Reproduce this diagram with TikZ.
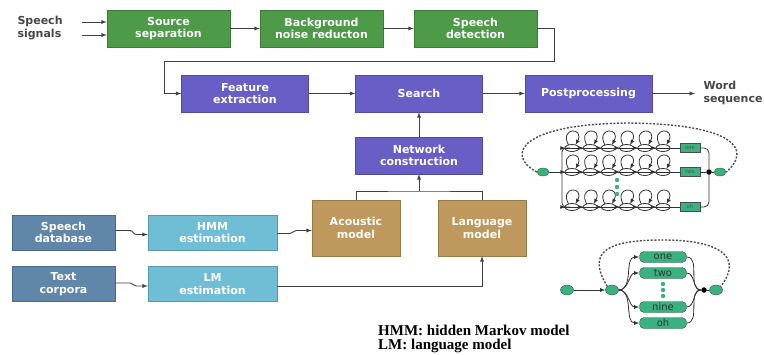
\documentclass[tikz,border=0pt]{standalone}
\usepackage{fontspec}
\setmainfont{DejaVu Sans}
\newfontfamily\capfont{Liberation Serif}
\usetikzlibrary{arrows, positioning, shapes.geometric}
\definecolor{mygreen}{RGB}{77,154,72}
\definecolor{mypurple}{RGB}{104,94,198}
\definecolor{mytan}{RGB}{190,152,92}
\definecolor{mysteel}{RGB}{96,134,170}
\definecolor{mysky}{RGB}{112,190,214}
\definecolor{netgreen}{RGB}{58,178,128}
\definecolor{labelgray}{RGB}{70,70,70}

\begin{document}
\begin{tikzpicture}[x=1pt,y=-1pt,
  box/.style={draw=#1!80!black, fill=#1, text=white, align=center, inner sep=1pt,
    font=\fontsize{11}{12.5}\selectfont\bfseries},
  gbox/.style={box=mygreen, minimum width=123pt, minimum height=37pt},
  pbox/.style={box=mypurple, minimum width=127pt, minimum height=37pt},
  tbox/.style={box=mytan, minimum width=88pt, minimum height=56pt},
  dbox/.style={box=mysteel, minimum width=103pt, minimum height=35pt},
  ebox/.style={box=mysky, minimum width=129pt, minimum height=35pt},
  outlabel/.style={text=labelgray, align=left, font=\fontsize{11}{12.5}\selectfont\bfseries},
  arr/.style={-latex, line width=0.9pt, draw=black!75},
  link/.style={line width=0.9pt, draw=black!75},
  net/.style={line width=0.8pt, draw=black!80},
  dashnet/.style={line width=1.4pt, draw=black!70, dash pattern=on 2pt off 1.6pt},
  nnode/.style={ellipse, draw=black!70, fill=netgreen, minimum width=12pt, minimum height=8pt, inner sep=0pt},
  jdot/.style={circle, fill=black, minimum size=5.5pt, inner sep=0pt},
  wbox/.style={draw=black!70, fill=netgreen, text=black!70, minimum width=20pt, minimum height=9pt,
    inner sep=0pt, font=\fontsize{5}{5}\selectfont},
  rbox/.style={draw=black!70, fill=netgreen, text=black!80, rounded corners=4.5pt, minimum width=47pt,
    minimum height=11pt, inner sep=0pt, font=\fontsize{10}{10}\selectfont}
  ]
  \useasboundingbox (0,0) rectangle (764,354);

  %Front end
  \node[outlabel, anchor=west] (sig) at (14,28) {Speech\\signals};
  \node[gbox] (src) at (168.5,28.5) {Source\\separation};
  \node[gbox] (bgn) at (321.5,28.5) {Background\\noise reducton};
  \node[gbox] (det) at (475.5,28.5) {Speech\\detection};
  \coordinate (in1) at (82,22);
  \coordinate (in2) at (82,35);
  \draw[arr] (in1) -- (in1 -| src.west);
  \draw[arr] (in2) -- (in2 -| src.west);
  \draw[arr] (src) -- (bgn);
  \draw[arr] (bgn) -- (det);

  %Recognition chain
  \node[pbox] (feat) at (245,93.5) {Feature\\extraction};
  \node[pbox] (srch) at (419,93.5) {Search};
  \node[pbox] (post) at (588.5,93.5) {Postprocessing};
  \node[outlabel, anchor=west] (word) at (700,93) {Word\\sequence};
  \coordinate (fb) at (164,61);
  \coordinate (out) at (695,93.5);
  \draw[arr] (det.east) -- ++(17,0) |- (fb) |- (feat.west);
  \draw[arr] (feat) -- (srch);
  \draw[arr] (srch) -- (post);
  \draw[arr] (post) -- (out);

  %Models
  \node[pbox] (netc) at (419,155.5) {Network\\construction};
  \node[tbox] (ac) at (356,228) {Acoustic\\model};
  \node[tbox] (lang) at (482,228) {Language\\model};
  \coordinate (j) at (419,191);
  \draw[arr] (netc) -- (srch);
  \draw[link] (ac.north) |- (j) -| (lang.north);
  \draw[arr] (j) -- (netc.south);

  %Training
  \node[dbox] (sdb) at (63.5,232.5) {Speech\\database};
  \node[ebox] (hmm) at (212.5,232.5) {HMM\\estimation};
  \node[dbox] (txt) at (63.5,284) {Text\\corpora};
  \node[ebox] (lme) at (212.5,284) {LM\\estimation};
  \draw[arr] ([yshift=2pt]sdb.east) -- ++(15,0) to[out=0,in=180] ++(6,4) -- ([yshift=-2pt]hmm.west);
  \draw[arr] ([yshift=-1pt]hmm.east) -- ++(13,0) to[out=0,in=180] ++(6,-3) -- ([yshift=2pt]hmm.east -| ac.west);
  \draw[arr] ([yshift=1pt]txt.east) -- ++(15,0) to[out=0,in=180] ++(6,3) -- ([yshift=-2pt]lme.west);
  \draw[arr] ([yshift=-2pt]lme.east) -| (lang.south);

  %Word network with HMM states
  \node[nnode] (tl) at (543,172) {};
  \node[nnode] (tr) at (720,172) {};
  \node[jdot] (tj) at (709,172) {};
  \foreach \r/\w in {148/one,172/two,207/oh}
  {
    \node[wbox] (t\w) at (690,\r) {\w};
    \draw[net] (562,\r) -- (t\w.west);
    \foreach \i in {0,...,5}
    {
      \pgfmathsetmacro\sx{572+18.2*\i}
      \draw[net] (\sx,\r) ellipse (7 and 3.5);
      \draw[net,-latex] (\sx-3.5,\r-3) .. controls (\sx-13,\r-21) and (\sx+13,\r-21) .. (\sx+3.5,\r-3);
      \draw[net,-latex] (\sx-12,\r) -- (\sx-6.5,\r);
    }
  }
  \draw[net, rounded corners=4pt] (570,148) -- (562,148) -- (562,207) -- (570,207);
  \draw[net] (tl.east) -- (566,172);
  \draw[net, rounded corners=5pt] (tone.east) -| (tj.north);
  \draw[net, rounded corners=5pt] (toh.east) -| (tj.south);
  \draw[net] (ttwo.east) -- (tj) -- (tr);
  \foreach \y in {180,187,194}
    \fill[netgreen] (617,\y) circle (2.2);
  \draw[dashnet] (tl.west) .. controls (505,155) and (520,124) .. (628,123)
    .. controls (736,124) and (752,150) .. (tr.east);

  %Word network, one node per word
  \node[nnode, minimum width=13pt, minimum height=10pt] (bl) at (567,290) {};
  \node[nnode, minimum width=13pt, minimum height=10pt] (bm) at (612,290) {};
  \node[jdot] (bj) at (704,290) {};
  \node[nnode, minimum width=13pt, minimum height=10pt] (br) at (716,290) {};
  \draw[net,-latex] (bl) -- (bm);
  \foreach \y/\w in {257/one,273/two,307/nine,323/oh}
  {
    \node[rbox] (b\w) at (663,\y) {\w};
    \draw[net,-latex] (bm.east) to[out=0,in=180] (b\w.west);
    \draw[net] (b\w.east) to[out=0,in=180] (bj);
  }
  \draw[net] (bj) -- (br);
  \foreach \y in {284,290,296}
    \fill[netgreen] (663,\y) circle (2.2);
  \draw[dashnet] (bm.north west) .. controls (585,250) and (610,240) .. (663,240)
    .. controls (716,240) and (745,255) .. (br.north east);

  %Legend
  \node[anchor=north west, align=left, inner sep=0pt, font={\capfont\fontsize{15}{14}\selectfont\bfseries}] (cap) at (378,325)
    {HMM: hidden Markov model\\LM: language model};
\end{tikzpicture}
\end{document}
